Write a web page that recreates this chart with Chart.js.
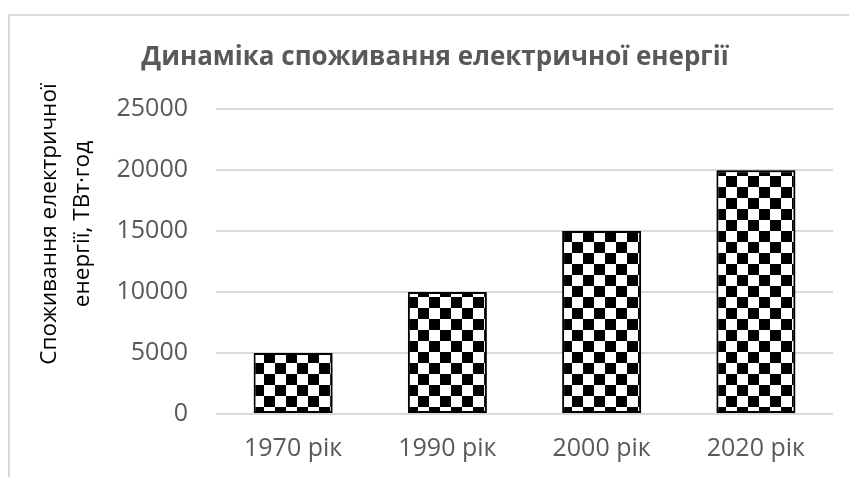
<!DOCTYPE html>
<html>
<head>
<meta charset="utf-8">
<script src="https://cdn.jsdelivr.net/npm/chart.js@4"></script>
<style>
  html, body { margin: 0; padding: 0; background: #fff; }
</style>
</head>
<body>
<canvas id="myChart" width="849" height="477"></canvas>
<script>
const years = ["1970 рік", "1990 рік", "2000 рік", "2020 рік"];
const usage = [5000, 10000, 15000, 20000];
const yTicks = [0, 5000, 10000, 15000, 20000, 25000];
const chartTitle = "Динаміка споживання електричної енергії";
const yTitle = ["Споживання електричної", "енергії, ТВт·год"];

// checkerboard fill like the Excel pattern
function checker(cell) {
  const c = document.createElement("canvas");
  c.width = cell * 2;
  c.height = cell * 2;
  const g = c.getContext("2d");
  g.fillStyle = "#fff";
  g.fillRect(0, 0, c.width, c.height);
  g.fillStyle = "#000";
  g.fillRect(0, 0, cell, cell);
  g.fillRect(cell, cell, cell, cell);
  return g.createPattern(c, "repeat");
}

const ctx = document.getElementById("myChart");
const pattern = checker(11);

const frame = {
  id: "frame",
  beforeDraw(chart) {
    const c = chart.ctx;
    c.save();
    c.fillStyle = "#fff";
    c.fillRect(0, 0, chart.width, chart.height);
    c.strokeStyle = "#d9d9d9";
    c.lineWidth = 2;
    c.beginPath();
    c.moveTo(9, chart.height);
    c.lineTo(9, 15);
    c.lineTo(chart.width, 15);
    c.stroke();
    c.restore();
  },
};

const barShadow = {
  id: "barShadow",
  beforeDatasetsDraw(chart) {
    const c = chart.ctx;
    c.save();
    c.shadowColor = "rgba(0,0,0,0.35)";
    c.shadowBlur = 4;
    c.shadowOffsetX = 2;
    c.shadowOffsetY = 2;
  },
  afterDatasetsDraw(chart) {
    chart.ctx.restore();
  },
};

const axisTitle = {
  id: "axisTitle",
  afterDraw(chart) {
    const c = chart.ctx;
    c.save();
    c.fillStyle = "#000";
    c.font = "22.6px 'Open Sans'";
    c.textAlign = "center";
    c.textBaseline = "middle";
    const xs = [50, 83];
    yTitle.forEach((t, i) => {
      c.save();
      c.translate(xs[i], 224);
      c.rotate(-Math.PI / 2);
      c.fillText(t, 0, 0);
      c.restore();
    });
    c.restore();
  },
};

const myChart = new Chart(ctx, {
  type: "bar",
  data: {
    labels: years,
    datasets: [
      {
        data: usage,
        backgroundColor: pattern,
        borderColor: "#000",
        borderWidth: 2,
        borderSkipped: false,
        categoryPercentage: 1,
        barPercentage: 0.512,
      },
    ],
  },
  options: {
    responsive: false,
    animation: false,
    devicePixelRatio: 1,
    layout: { padding: { left: 37, right: 16, top: 0, bottom: 0 } },
    plugins: {
      legend: { display: false },
      tooltip: { enabled: false },
      title: {
        display: true,
        text: chartTitle,
        color: "#595959",
        font: { family: "'Open Sans'", size: 26, weight: "bold" },
        padding: { top: 42, bottom: 36 },
      },
    },
    scales: {
      x: {
        grid: { display: false, drawTicks: false },
        border: { display: false },
        ticks: {
          color: "#595959",
          font: { family: "'Open Sans'", size: 25 },
          padding: 20,
        },
        afterFit(s) { s.height = 63; },
      },
      y: {
        min: 0,
        max: 25000,
        grid: { color: "#d9d9d9", lineWidth: 2, drawTicks: false },
        border: { display: false },
        ticks: {
          color: "#595959",
          font: { family: "'Open Sans'", size: 25 },
          padding: 28,
          callback: v => String(v),
        },
        afterBuildTicks(s) { s.ticks = yTicks.map(v => ({ value: v })); },
        afterFit(s) { s.width = 179; },
      },
    },
  },
  plugins: [frame, barShadow, axisTitle],
});
</script>
</body>
</html>
